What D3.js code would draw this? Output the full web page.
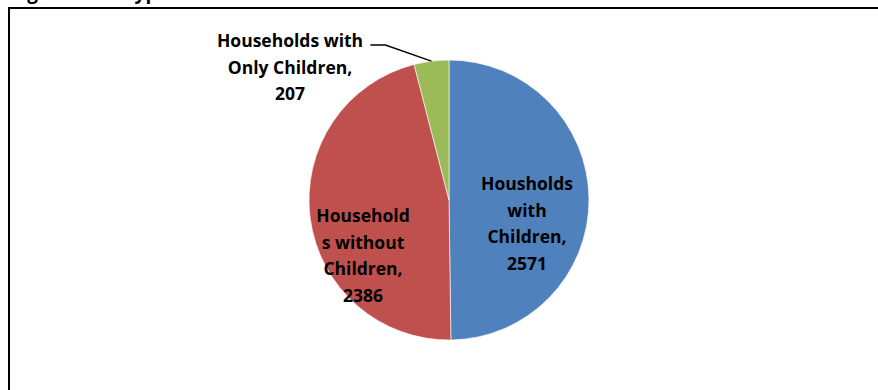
<!DOCTYPE html>
<html>
<head>
<meta charset="utf-8">
<script src="https://cdn.jsdelivr.net/npm/d3@7/dist/d3.min.js"></script>
<style>
  html, body { margin: 0; padding: 0; background: #fff; }
  svg { display: block; }
  text { font-family: "Open Sans", Lato, sans-serif; font-weight: bold; fill: #000; }
</style>
</head>
<body>
<svg id="chart" width="878" height="390"></svg>
<script>
// Household composition counts
const categories = ["Housholds with Children", "Households without Children", "Households with Only Children"];
const values = [2571, 2386, 207];
const labelLines = [
  ["Housholds", "with", "Children,", "2571"],
  ["Household", "s without", "Children,", "2386"],
  ["Households with", "Only Children,", "207"]
];
const colors = ["#4F81BD", "#C0504D", "#9BBB59"];

const W = 878, H = 390;
const cx = 449, cy = 200, R = 140;
const fontSize = 17.5, lineH = 26.5;

const svg = d3.select("#chart");

// Figure caption, mostly above the visible area
svg.append("text")
  .attr("x", 11).attr("y", -1)
  .style("font-size", "19px")
  .text("Figure 4.10: Types of Households");

// Chart frame
svg.append("rect")
  .attr("x", 9).attr("y", 8)
  .attr("width", W + 20).attr("height", H + 20)
  .attr("fill", "none").attr("stroke", "#000").attr("stroke-width", 2);

const pie = d3.pie().sort(null).value(d => d.value);
const arc = d3.arc().innerRadius(0).outerRadius(R);
const data = categories.map((c, i) => ({ name: c, value: values[i], color: colors[i], lines: labelLines[i] }));
const arcs = pie(data);

const g = svg.append("g").attr("transform", `translate(${cx},${cy})`);

g.selectAll("path.slice")
  .data(arcs)
  .join("path")
  .attr("class", "slice")
  .attr("d", arc)
  .attr("fill", d => d.data.color)
  .attr("stroke", "#fff")
  .attr("stroke-width", 0.6);

// Label placement relative to the pie centre (first baseline)
const labelPos = [
  { x: 78, y: -10 },
  { x: -86, y: 22 },
  { x: -159, y: -153 }
];

arcs.forEach((a, i) => {
  const p = labelPos[i];
  const t = g.append("text")
    .attr("text-anchor", "middle")
    .style("font-size", fontSize + "px");
  a.data.lines.forEach((ln, j) => {
    t.append("tspan").attr("x", p.x).attr("y", p.y + j * lineH).text(ln);
  });
});

// Leader line for the small slice
const small = arcs[2];
const mid = (small.startAngle + small.endAngle) / 2;
const edge = [Math.sin(mid) * R, -Math.cos(mid) * R];
const elbow = [edge[0] - 46, edge[1] - 16];
const start = [elbow[0] - 15, elbow[1]];
g.append("path")
  .attr("d", d3.line()([start, elbow, edge]))
  .attr("fill", "none")
  .attr("stroke", "#000")
  .attr("stroke-width", 1.5);
</script>
</body>
</html>
